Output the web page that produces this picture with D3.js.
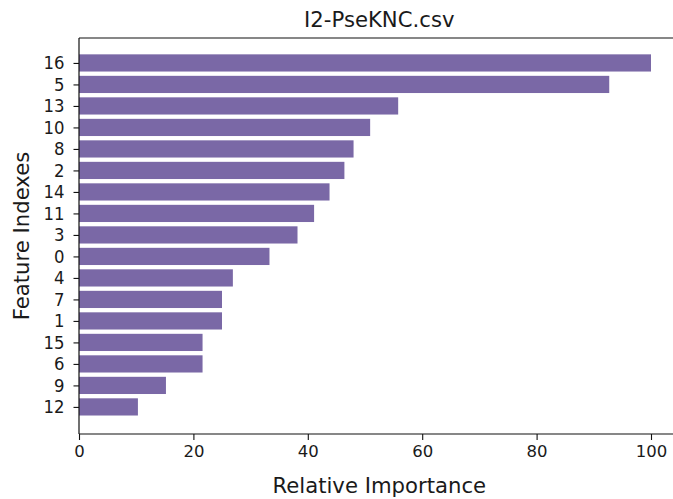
<!DOCTYPE html>
<html>
<head>
<meta charset="utf-8">
<script src="https://cdn.jsdelivr.net/npm/d3@7"></script>
<style>
  html, body { margin: 0; padding: 0; background: #fff; }
  svg { display: block; }
  text { font-family: "DejaVu Sans", sans-serif; fill: #1a1a1a; }
</style>
</head>
<body>
<svg id="chart" width="673" height="499"></svg>
<script>
// Data (bottom to top order as drawn)
const features = ["12", "9", "6", "15", "1", "7", "4", "0", "3", "11", "14", "2", "8", "10", "13", "5", "16"];
const importance = [10.3, 15.2, 21.6, 21.6, 25.0, 25.0, 26.9, 33.3, 38.2, 41.1, 43.8, 46.4, 48.0, 50.9, 55.8, 92.7, 100];
const xTicks = [0, 20, 40, 60, 80, 100];
const titleText = "I2-PseKNC.csv";
const xLabel = "Relative Importance";
const yLabel = "Feature Indexes";

const svg = d3.select("#chart");
const pLeft = 79, pRight = 679.6, pTop = 38, pBottom = 434;
const barColor = "#7A68A6";

const x = d3.scaleLinear().domain([0, 105]).range([pLeft, pRight]);
const y = d3.scaleLinear().domain([-1.26, 17.16]).range([pBottom, pTop]);
const barH = y(0) - y(0.8);

// Bars
svg.append("g").selectAll("rect")
  .data(features.map((f, i) => ({ f, v: importance[i], i })))
  .join("rect")
  .attr("x", x(0))
  .attr("y", d => y(d.i + 0.4))
  .attr("width", d => x(d.v) - x(0))
  .attr("height", barH)
  .attr("fill", barColor);

// Spines
const sp = svg.append("g").attr("stroke", "#111").attr("stroke-width", 1.2).attr("fill", "none");
sp.append("line").attr("x1", pLeft).attr("x2", pLeft).attr("y1", pTop).attr("y2", pBottom);
sp.append("line").attr("x1", pLeft).attr("x2", pRight).attr("y1", pBottom).attr("y2", pBottom);
sp.append("line").attr("x1", pLeft).attr("x2", pRight).attr("y1", pTop).attr("y2", pTop);
sp.append("line").attr("x1", pRight).attr("x2", pRight).attr("y1", pTop).attr("y2", pBottom);

// X axis
const xAxis = d3.axisBottom(x).tickValues(xTicks).tickSize(6).tickPadding(5).tickFormat(d3.format("d"));
const gx = svg.append("g").attr("transform", `translate(0,${pBottom})`).call(xAxis);
gx.select(".domain").remove();
gx.selectAll(".tick line").attr("stroke", "#111").attr("stroke-width", 1.1);
gx.selectAll(".tick text").attr("font-size", 16.5).attr("font-family", "DejaVu Sans").attr("fill", "#1a1a1a");

// Y axis
const yAxis = d3.axisLeft(y).tickValues(d3.range(features.length)).tickSize(5.5).tickPadding(9)
  .tickFormat(i => features[i]);
const gy = svg.append("g").attr("transform", `translate(${pLeft},0)`).call(yAxis);
gy.select(".domain").remove();
gy.selectAll(".tick line").attr("stroke", "#111").attr("stroke-width", 1.1);
gy.selectAll(".tick text").attr("font-size", 16.5).attr("font-family", "DejaVu Sans").attr("fill", "#1a1a1a")
  .attr("transform", "scale(1,1.06)").attr("y", 0).attr("dy", "0.32em");

// Title
svg.append("text")
  .attr("x", (pLeft + pRight) / 2).attr("y", 26.7)
  .attr("text-anchor", "middle").attr("font-size", 21.2)
  .text(titleText);

// X label
svg.append("text")
  .attr("x", (pLeft + pRight) / 2).attr("y", 493)
  .attr("text-anchor", "middle").attr("font-size", 21.2)
  .text(xLabel);

// Y label
svg.append("text")
  .attr("transform", `translate(29,${(pTop + pBottom) / 2}) rotate(-90)`)
  .attr("text-anchor", "middle").attr("font-size", 21.2)
  .text(yLabel);
</script>
</body>
</html>
